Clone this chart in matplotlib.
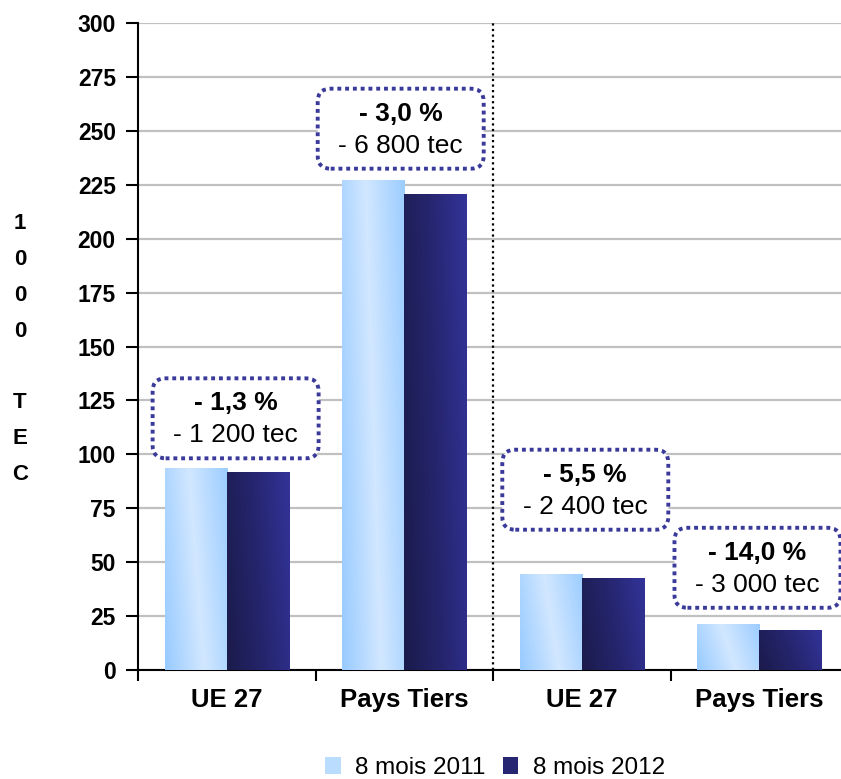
import numpy as np
import matplotlib.pyplot as plt
import matplotlib.transforms as mtransforms
from matplotlib.colors import LinearSegmentedColormap
from matplotlib.patches import Patch, FancyBboxPatch

# donnees
categories = ["UE 27", "Pays Tiers", "UE 27", "Pays Tiers"]
valeurs_2011 = [93.7, 227.0, 44.6, 21.4]
valeurs_2012 = [91.9, 220.7, 42.7, 18.6]
pct_labels = ["- 1,3 %", "- 3,0 %", "- 5,5 %", "- 14,0 %"]
tec_labels = ["- 1 200 tec", "- 6 800 tec", "- 2 400 tec", "- 3 000 tec"]
serie_labels = ["8 mois 2011", "8 mois 2012"]

# couleurs
CLAIR = LinearSegmentedColormap.from_list("clair", ["#98cbff", "#d2e7ff", "#9ccdff"])
FONCE = LinearSegmentedColormap.from_list("fonce", ["#1b1b4c", "#25256e", "#333399"])
BORD = "#3a3a9a"

plt.rcParams["font.family"] = ["Liberation Sans", "DejaVu Sans"]

fig = plt.figure(figsize=(8.41, 7.79), dpi=100)
ax = fig.add_axes([138 / 841, 109 / 779, 710 / 841, 647 / 779])

x = np.arange(len(categories))
w = 0.35
b1 = ax.bar(x - w / 2, valeurs_2011, w, facecolor="none", edgecolor="none", zorder=3)
b2 = ax.bar(x + w / 2, valeurs_2012, w, facecolor="none", edgecolor="none", zorder=3)

# degradé dans chaque barre
gx, gy = np.meshgrid(np.linspace(0, 1, 64), np.linspace(0, 1, 64))
grad = np.clip(gx * 0.8 + (1 - gy) * 0.2, 0, 1)
for bars, cmap in [(b1, CLAIR), (b2, FONCE)]:
    for r in bars:
        x0, y0 = r.get_x(), r.get_y()
        im = ax.imshow(grad, cmap=cmap, extent=[x0, x0 + r.get_width(), y0, y0 + r.get_height()],
                       origin="upper", aspect="auto", zorder=3, interpolation="bilinear")
        im.set_clip_path(r)

ax.set_xlim(-0.5, 3.5)
ax.set_ylim(0, 300)
ax.set_yticks(np.arange(0, 301, 25))
ax.yaxis.grid(True, color="#c0c0c0", linewidth=1.6, zorder=0)
ax.set_axisbelow(True)

# separateur pointillé
ax.axvline(1.5, color="black", linestyle=(0, (1, 1.5)), linewidth=1.6, zorder=2)

for s in ["top", "right"]:
    ax.spines[s].set_visible(False)
for s in ["left", "bottom"]:
    ax.spines[s].set_linewidth(1.5)

ax.set_xticks(x)
ax.set_xticklabels(categories, fontsize=18.5, fontweight="bold")
ax.set_xticks(np.arange(-0.5, 4, 1), minor=True)
ax.tick_params(axis="x", which="major", length=0, pad=13)
ax.tick_params(axis="x", which="minor", length=8, width=1.5, direction="out")
ax.tick_params(axis="y", length=9, width=1.5, labelsize=16.5, pad=7)
for t in ax.get_yticklabels():
    t.set_fontweight("bold")

fig.text(20 / 841, 1 - 349 / 779, "1\n0\n0\n0\n\nT\nE\nC", ha="center", va="center",
         fontsize=16, fontweight="bold", linespacing=1.92)

# encadrés (taille fixe en pouces, centrés sur un point en données)
decal_x = [0.05, -0.02, 0.02, -0.01]
decal_y = [23, 24, 39, 26]
bw, bh = 1.66, 0.80
for i in range(len(categories)):
    xc = x[i] + decal_x[i]
    yc = max(valeurs_2011[i], valeurs_2012[i]) + decal_y[i]
    tr = fig.dpi_scale_trans + mtransforms.ScaledTranslation(xc, yc, ax.transData)
    box = FancyBboxPatch((-bw / 2, -bh / 2), bw, bh, boxstyle="round,pad=0,rounding_size=0.13",
                         transform=tr, facecolor="white", edgecolor=BORD, linewidth=2.8,
                         linestyle=(0, (1, 1.0)), zorder=5)
    ax.add_patch(box)
    ax.text(0, 0.15, pct_labels[i], transform=tr, ha="center", va="center",
            fontsize=19, fontweight="bold", zorder=6)
    ax.text(0, -0.17, tec_labels[i], transform=tr, ha="center", va="center",
            fontsize=19, zorder=6)

handles = [Patch(facecolor="#b9dcff"), Patch(facecolor="#262672")]
fig.legend(handles, serie_labels, loc="center", bbox_to_anchor=(495 / 841, 1 - 768 / 779),
           ncol=2, frameon=False, fontsize=17.5, handlelength=0.65, handleheight=0.65,
           handletextpad=0.6, columnspacing=0.7)

fig.savefig("out.png", dpi=100)
